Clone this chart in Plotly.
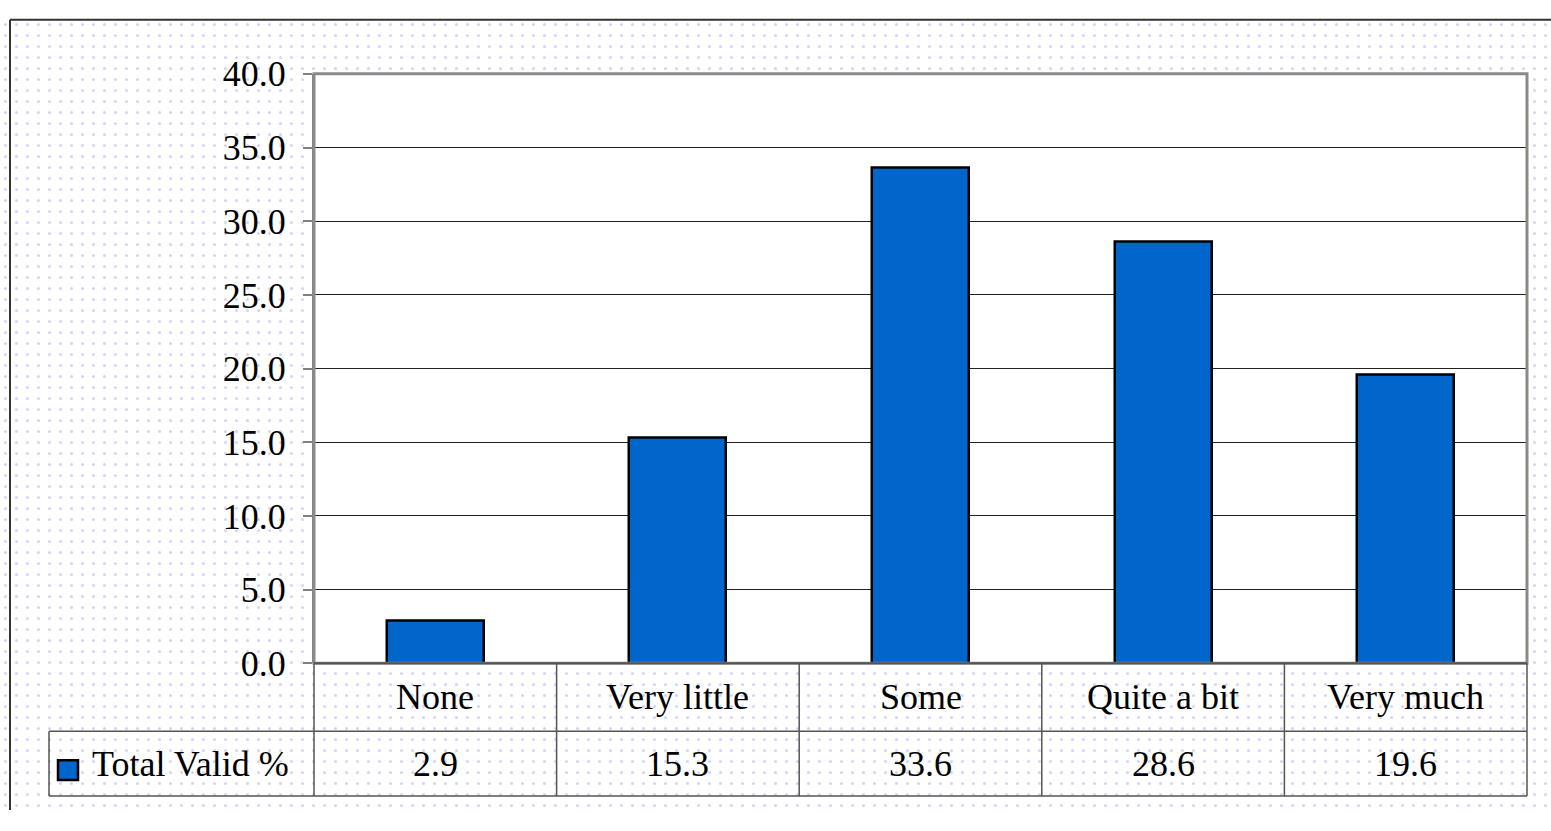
import plotly.graph_objects as go

# ---- data ----
categories = ["None", "Very little", "Some", "Quite a bit", "Very much"]
values = [2.9, 15.3, 33.6, 28.6, 19.6]
value_labels = ["2.9", "15.3", "33.6", "28.6", "19.6"]
series_name = "Total Valid %"
y_ticks = [0, 5, 10, 15, 20, 25, 30, 35, 40]
y_tick_labels = ["0.0", "5.0", "10.0", "15.0", "20.0", "25.0", "30.0", "35.0", "40.0"]

# ---- layout geometry (target screen pixels) ----
W, H = 1551, 831
OFF_Y, H_EFF = 18, 793      # observed on-screen placement of the figure
X0, X1 = 314, 1527          # plot area left/right
Y_TOP, Y_BOT = 73, 664      # plot area top/bottom
ROW1, ROW2 = 732, 797       # table row bottoms
LEFT_TABLE = 49
FONT = "Liberation Serif"
FS = 36
BAR_COLOR = "#0066CC"
GRID_COLOR = "#222222"
TABLE_LINE = "#555555"
DOT_COLOR = "#a8a8f0"


def px(x):
    return x / W


def py(y):
    return 1 - (y - OFF_Y) / H_EFF


fig = go.Figure()

# dotted page background (decorative)
fig.add_trace(go.Bar(
    x=[0.5], y=[1], width=[1], base=[0], xaxis="x", yaxis="y",
    marker=dict(color="white", line=dict(width=0),
                pattern=dict(shape=".", fgcolor=DOT_COLOR, bgcolor="white",
                             size=11, solidity=0.06)),
    hoverinfo="skip", showlegend=False,
))

# the actual chart
fig.add_trace(go.Bar(
    x=categories, y=values, name=series_name, xaxis="x2", yaxis="y2",
    width=0.4,
    marker=dict(color=BAR_COLOR, line=dict(color="black", width=2.5)),
    showlegend=False,
))

shapes = []
# plot-area frame (gray, 3D look on top/right)
shapes.append(dict(type="rect", xref="paper", yref="paper",
                   x0=px(X0), x1=px(X1), y0=py(Y_BOT), y1=py(Y_TOP),
                   line=dict(color="#8a8a8a", width=3), layer="above"))
# table horizontal lines
shapes.append(dict(type="line", xref="paper", yref="paper",
                   x0=px(X0), x1=px(X1), y0=py(Y_BOT), y1=py(Y_BOT),
                   line=dict(color="#555555", width=2)))
for yy in (ROW1, ROW2):
    shapes.append(dict(type="line", xref="paper", yref="paper",
                       x0=px(LEFT_TABLE), x1=px(X1), y0=py(yy), y1=py(yy),
                       line=dict(color=TABLE_LINE, width=1.5)))
# table vertical lines
n = len(categories)
for i in range(n + 1):
    xx = X0 + i * (X1 - X0) / n
    shapes.append(dict(type="line", xref="paper", yref="paper",
                       x0=px(xx), x1=px(xx), y0=py(Y_BOT), y1=py(ROW2),
                       line=dict(color=TABLE_LINE, width=1.5)))
shapes.append(dict(type="line", xref="paper", yref="paper",
                   x0=px(LEFT_TABLE), x1=px(LEFT_TABLE), y0=py(ROW1), y1=py(ROW2),
                   line=dict(color=TABLE_LINE, width=1.5)))
# legend key in table
shapes.append(dict(type="rect", xref="paper", yref="paper",
                   x0=px(58), x1=px(78), y0=py(781), y1=py(761),
                   fillcolor=BAR_COLOR, line=dict(color="black", width=2.5)))
# outer chart border (left/top visible)
shapes.append(dict(type="line", xref="paper", yref="paper",
                   x0=px(10), x1=px(10), y0=0, y1=0.999,
                   line=dict(color="#333333", width=2)))
shapes.append(dict(type="line", xref="paper", yref="paper",
                   x0=px(10), x1=1, y0=0.999, y1=0.999,
                   line=dict(color="#333333", width=2)))

annotations = []
ycat = py((Y_BOT + ROW1) / 2)
yval = py((ROW1 + ROW2) / 2)
for c, v in zip(categories, value_labels):
    annotations.append(dict(x=c, xref="x2", y=ycat, yref="paper", text=c,
                            showarrow=False, xanchor="center", yanchor="middle",
                            font=dict(family=FONT, size=FS, color="black")))
    annotations.append(dict(x=c, xref="x2", y=yval, yref="paper", text=v,
                            showarrow=False, xanchor="center", yanchor="middle",
                            font=dict(family=FONT, size=FS, color="black")))
annotations.append(dict(x=px(90), xref="paper", y=yval, yref="paper",
                        text=series_name, showarrow=False,
                        xanchor="left", yanchor="middle",
                        font=dict(family=FONT, size=FS, color="black")))

fig.update_layout(
    width=W, height=H,
    margin=dict(l=0, r=0, t=0, b=0),
    paper_bgcolor="white", plot_bgcolor="white",
    showlegend=False,
    bargap=0,
    xaxis=dict(domain=[0, 1], range=[0, 1], visible=False, fixedrange=True),
    yaxis=dict(domain=[0, 1], range=[0, 1], visible=False, fixedrange=True),
    xaxis2=dict(domain=[px(X0), px(X1)], anchor="y2", type="category",
                range=[-0.5, n - 0.5], showticklabels=False, ticks="",
                showgrid=False, showline=False, zeroline=False),
    yaxis2=dict(domain=[py(Y_BOT), py(Y_TOP)], anchor="x2", range=[0, 40],
                tickvals=y_ticks, ticktext=y_tick_labels,
                ticks="outside", ticklen=9, tickwidth=2, tickcolor="#808080",
                ticklabelstandoff=10,
                tickfont=dict(family=FONT, size=FS, color="black"),
                showgrid=True, gridcolor=GRID_COLOR, gridwidth=1,
                showline=True, linecolor="#808080", linewidth=2,
                zeroline=False),
    shapes=shapes,
    annotations=annotations,
)

bg_css = "radial-gradient(circle, %s 1px, transparent 1.4px) 0 0 / 11px 11px" % DOT_COLOR
fig.write_html(
    "out.html",
    config={"displayModeBar": False},
    post_script=(
        "document.body.style.margin='0';"
        "document.documentElement.style.background='%s';"
        "document.body.style.background='%s';" % (bg_css, bg_css)
    ),
)
